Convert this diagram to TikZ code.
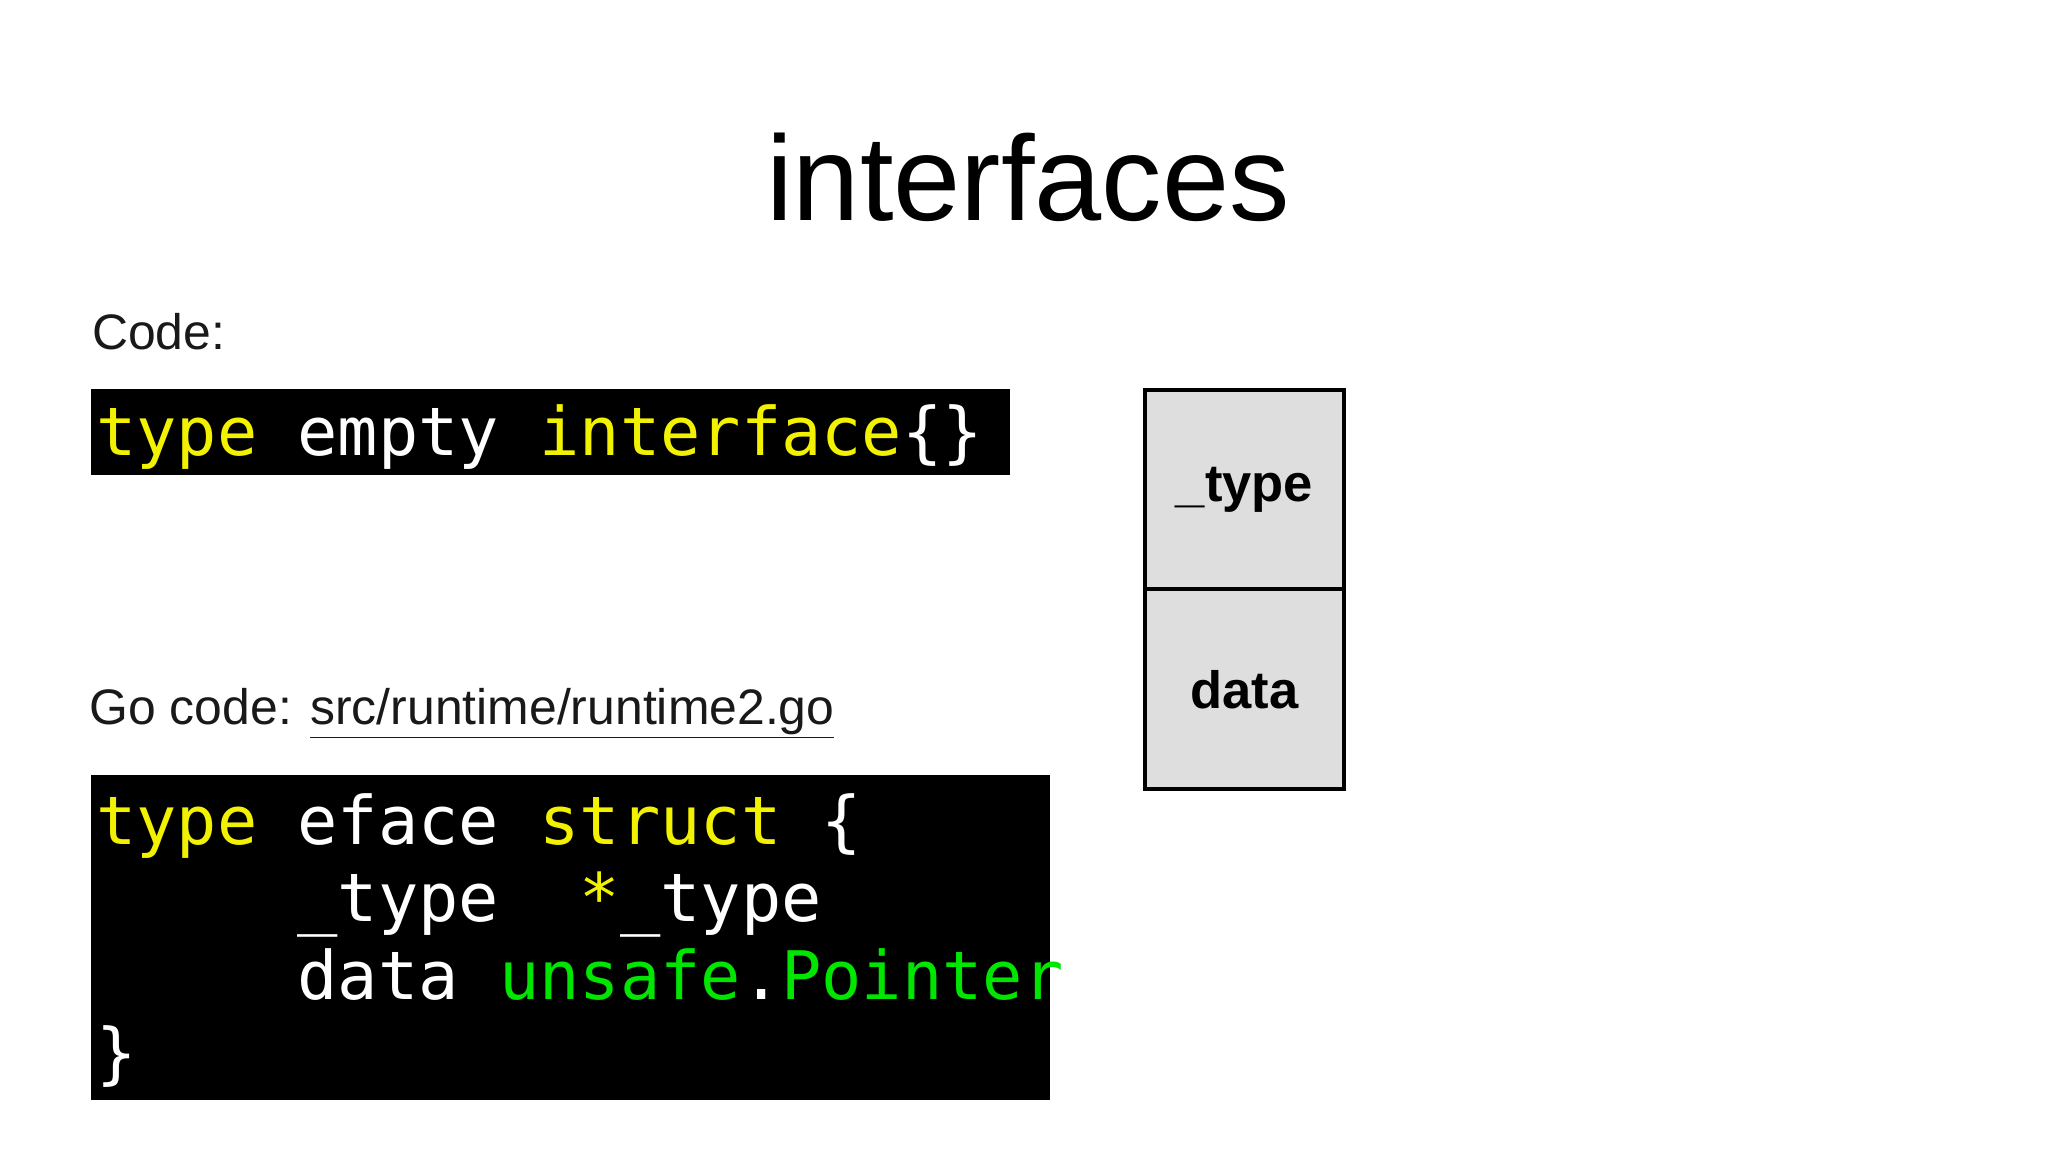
\documentclass[tikz,border=0pt]{standalone}
\usepackage{fontspec}
\setmainfont{Liberation Sans}
\newfontfamily\codefont{DejaVu Sans Mono}
\definecolor{kwyellow}{HTML}{F2F200}
\definecolor{kwgreen}{HTML}{00E600}
\definecolor{cellgray}{HTML}{DEDEDE}
\begin{document}
\begin{tikzpicture}[x=1pt,y=-1pt,
  codebox/.style={fill=black,draw=none},
  codeline/.style={anchor=base west,inner sep=0pt,text=white,font=\codefont\fontsize{51}{59}\selectfont},
  cell/.style={draw=black,line width=3pt,fill=cellgray,minimum width=152pt,minimum height=152pt,inner sep=0pt,font=\bfseries\fontsize{40}{48}\selectfont},
  label/.style={anchor=base west,inner sep=0pt,font=\fontsize{38}{46}\selectfont,text=black!90}]
\useasboundingbox (0,0) rectangle (1560,877.5);
\node[anchor=base,inner sep=0pt,font=\fontsize{92}{100}\selectfont] (title) at (783,168) {interfaces};
\node[label] (codelbl) at (70,266) {Code:};
\fill[codebox] (69,296) rectangle (769,362);
\node[codeline] (c1) at (73,347) {\textcolor{kwyellow}{type} empty \textcolor{kwyellow}{interface}\{\}};
\node[label] (golbl) at (68,552) {Go code: \underline{src/runtime/runtime2.go}};
\fill[codebox] (69,590) rectangle (800,838);
\node[codeline] (g1) at (73,643) {\textcolor{kwyellow}{type} eface \textcolor{kwyellow}{struct} \{};
\node[codeline] (g2) at (73,702) {\phantom{type} \_type \ \textcolor{kwyellow}{*}\_type};
\node[codeline] (g3) at (73,761) {\phantom{type} data \textcolor{kwgreen}{unsafe}.\textcolor{kwgreen}{Pointer}};
\node[codeline] (g4) at (73,820) {\}};
\node[cell] (type) at (948,373) {\_type};
\node[cell] (data) at (948,525) {data};
\end{tikzpicture}
\end{document}
